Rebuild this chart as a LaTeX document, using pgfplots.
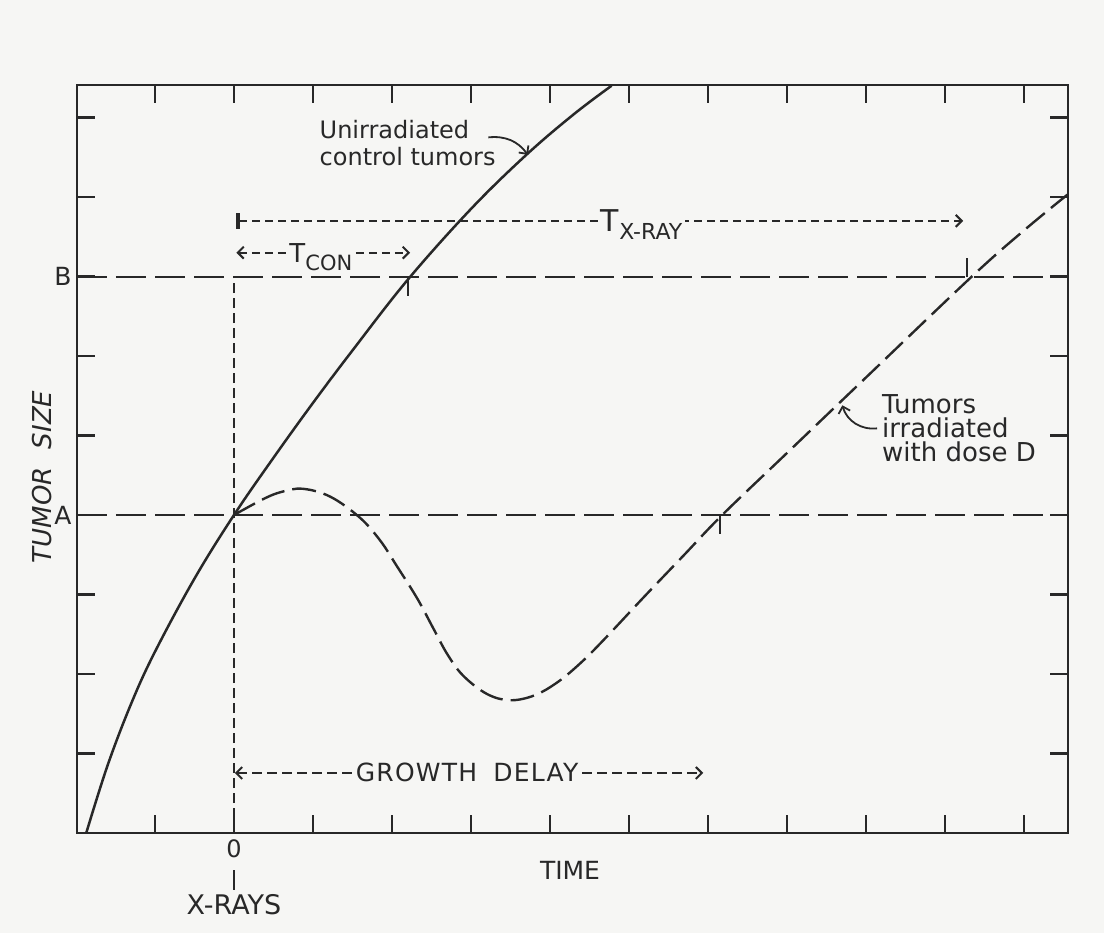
\documentclass[border=0pt]{standalone}
\usepackage{pgfplots}
\pgfplotsset{compat=1.18}
\usepackage{fontspec}
\setmainfont{DejaVu Sans}
\usetikzlibrary{arrows.meta}
\definecolor{bg}{RGB}{246,246,244}
\definecolor{ink}{RGB}{40,40,40}
\newcommand{\fs}[1]{\fontsize{#1}{#1}\selectfont}
\begin{document}
\begin{tikzpicture}
\fill[bg] (-38.5pt,-50pt) rectangle (513.5pt,416.5pt);
\begin{axis}[
  scale only axis, width=495.5pt, height=374pt,
  xmin=-1.987, xmax=10.557, ymin=0, ymax=9.409,
  axis line style={ink, line width=1.3pt},
  tick style={ink, line width=1.1pt},
  tick align=inside, major tick length=9pt,
  xtick={-1,0,...,10}, xticklabels={,0,,,,,,,,,,},
  ytick={1,...,9}, yticklabels={,,,A,,,B,,},
  xtick pos=both, ytick pos=both, xticklabel pos=lower, yticklabel pos=left,
  xticklabel style={font=\fs{12}, text=ink},
  yticklabel style={font=\fs{12.5}, text=ink, inner sep=2.5pt},
  xlabel={TIME},
  xlabel style={at={(axis description cs:0.4975,0)}, anchor=center, yshift=-18.5pt, font=\fs{12.5}, text=ink},
  ylabel={TUMOR\hspace{0.7em}SIZE},
  ylabel style={at={(axis description cs:-0.0353,0.476)}, anchor=center, font=\fs{13}\itshape, text=ink},
  clip=false,
]
% reference levels A and B
\addplot[ink, line width=1pt, dash pattern=on 15pt off 4.5pt] coordinates {(-1.987,4) (10.557,4)};
\addplot[ink, line width=1pt, dash pattern=on 15pt off 4.5pt] coordinates {(-1.987,7) (10.557,7)};
% time of irradiation
\addplot[ink, line width=1pt, dash pattern=on 5pt off 2.5pt] coordinates {(0,0) (0,7)};
% unirradiated control tumors
\addplot[ink, line width=1.25pt, smooth, tension=0.6] coordinates {
(-1.87,0) (-1.6,0.85) (-1.3,1.63) (-1.0,2.28) (-0.5,3.2) (0,4.0) (0.5,4.72) (1.0,5.41)
(1.5,6.07) (2.2,6.96) (3.0,7.85) (3.7,8.53) (4.3,9.04) (4.78,9.4)};
% tumors irradiated with dose D
\addplot[ink, line width=1.2pt, smooth, tension=0.6, dash pattern=on 12pt off 4pt] coordinates {
(0,4) (0.37,4.2) (0.6,4.29) (0.87,4.33) (1.22,4.23) (1.59,3.97) (1.85,3.68) (2.06,3.36)
(2.32,2.95) (2.52,2.58) (2.70,2.25) (2.90,1.98) (3.2,1.75) (3.49,1.67) (3.8,1.73)
(4.1,1.9) (4.4,2.15) (4.7,2.45) (5.2,2.98) (5.7,3.5) (6.18,4.0)
(7.0,4.78) (8.0,5.73) (9.34,7.0) (10.0,7.58) (10.55,8.03)};
% small crossing ticks
\draw[ink, line width=1pt] (axis cs:2.20,7) -- (axis cs:2.20,6.75);
\draw[ink, line width=1pt] (axis cs:6.15,4) -- (axis cs:6.15,3.76);
\draw[ink, line width=1pt] (axis cs:9.28,7) -- (axis cs:9.28,7.23);
% T X-RAY
\draw[ink, line width=1pt, dash pattern=on 4pt off 2.5pt, {Bar[width=8pt,line width=1.8pt]}-{Straight Barb[length=3pt,width=6pt]}] (axis cs:0.03,7.70) -- (axis cs:9.23,7.70);
\node[fill=bg, inner sep=1.5pt, anchor=base, text=ink] at (axis cs:5.16,7.56) {\fs{15}T\raisebox{-4pt}{\fs{11}X-RAY}};
% T CON
\draw[ink, line width=1pt, dash pattern=on 4pt off 2.5pt, {Straight Barb[length=3pt,width=6pt]}-{Straight Barb[length=3pt,width=6pt]}] (axis cs:0.03,7.30) -- (axis cs:2.23,7.30);
\node[fill=bg, inner sep=1.5pt, anchor=base, text=ink] at (axis cs:1.10,7.18) {\fs{13}T\raisebox{-4pt}{\fs{10.5}CON}};
% growth delay
\draw[ink, line width=1pt, dash pattern=on 5pt off 2.5pt, {Straight Barb[length=3pt,width=6pt]}-{Straight Barb[length=3pt,width=6pt]}] (axis cs:0.01,0.755) -- (axis cs:5.94,0.755);
\node[fill=bg, inner sep=2pt, anchor=center, text=ink] at (axis cs:2.95,0.76) {\fs{12.5}\addfontfeatures{LetterSpace=5}GROWTH\hspace{8pt}DELAY};
% curve labels
\node[anchor=base west, inner sep=0pt, text=ink, font=\fs{12}] at (axis cs:1.08,8.74) {Unirradiated};
\node[anchor=base west, inner sep=0pt, text=ink, font=\fs{12}] at (axis cs:1.08,8.40) {control tumors};
\draw[ink, line width=0.9pt, -{Straight Barb[length=3pt,width=6pt]}] (axis cs:3.22,8.75) to[bend left=30] (axis cs:3.72,8.53);
\node[anchor=base west, inner sep=0pt, text=ink, font=\fs{13}] at (axis cs:8.20,5.28) {Tumors};
\node[anchor=base west, inner sep=0pt, text=ink, font=\fs{13}] at (axis cs:8.20,4.98) {irradiated};
\node[anchor=base west, inner sep=0pt, text=ink, font=\fs{13}] at (axis cs:8.20,4.67) {with dose D};
\draw[ink, line width=0.9pt, -{Straight Barb[length=3pt,width=6pt]}] (axis cs:8.14,5.09) to[bend left=40] (axis cs:7.70,5.38);
% X-RAYS marker under 0
\draw[ink, line width=1pt] ([yshift=-18.5pt]axis cs:0,0) -- ([yshift=-28.5pt]axis cs:0,0);
\node[text=ink, font=\fs{13.5}, yshift=-36pt] at (axis cs:0,0) {X-RAYS};
\end{axis}
\end{tikzpicture}
\end{document}
